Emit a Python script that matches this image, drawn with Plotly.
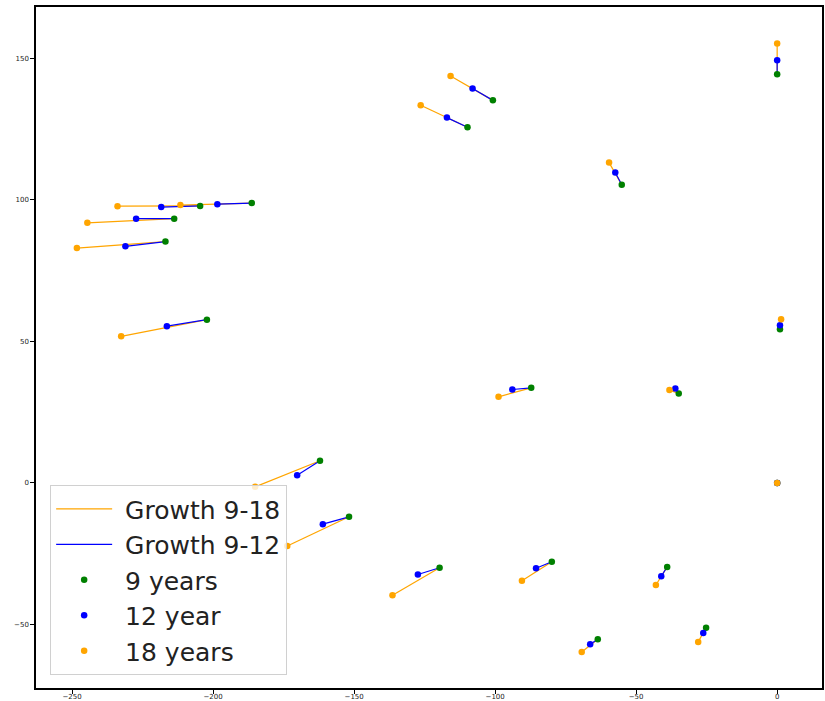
import plotly.graph_objects as go

# Landmark positions at three ages (one entry per landmark)
x9 = [0.0, -55.1, 1.0, -100.8, -109.8, -186.3, -204.6, -213.8, -216.9, -202.2,
      -87.2, -162.1, -151.8, -119.7, -79.9, -63.6, -34.9, 0.0, -39.0, -25.2]
y9 = [144.4, 105.4, 54.3, 135.2, 125.7, 98.9, 97.9, 93.4, 85.3, 57.7,
      33.6, 7.8, -12.0, -30.0, -27.9, -55.3, 31.6, 0.0, -29.7, -51.2]
x12 = [0.0, -57.4, 1.0, -108.0, -117.1, -198.5, -218.4, -227.3, -231.1, -216.4,
       -93.9, -170.2, -161.1, -127.4, -85.5, -66.3, -36.1, 0.0, -41.1, -26.2]
y12 = [149.4, 109.7, 55.7, 139.4, 129.1, 98.5, 97.5, 93.4, 83.6, 55.4,
       33.0, 2.7, -14.6, -32.4, -30.2, -57.0, 33.4, 0.0, -33.0, -53.1]
x18 = [0.0, -59.6, 1.4, -115.8, -126.4, -211.6, -233.9, -244.6, -248.3, -232.6,
       -98.8, -185.1, -173.7, -136.4, -90.5, -69.3, -38.2, 0.0, -43.0, -28.0]
y18 = [155.3, 113.2, 57.8, 143.8, 133.5, 98.2, 97.8, 91.9, 83.0, 51.8,
       30.4, -1.4, -22.3, -39.7, -34.6, -59.8, 32.8, 0.0, -36.1, -56.2]

x_ticks = [-250, -200, -150, -100, -50, 0]
y_ticks = [-50, 0, 50, 100, 150]

# a non-breaking space widens the gap between legend symbol and label
PAD = "\u00a0"


def segments(xa, ya, xb, yb):
    """Join point i of one age to point i of another, separated by gaps."""
    xs, ys = [], []
    for x0, y0, x1, y1 in zip(xa, ya, xb, yb):
        xs += [x0, x1, None]
        ys += [y0, y1, None]
    return xs, ys


fig = go.Figure()

sx, sy = segments(x9, y9, x18, y18)
fig.add_trace(go.Scatter(x=sx, y=sy, mode="lines", name=PAD + "Growth 9-18",
                         line=dict(color="orange", width=1.2)))
sx, sy = segments(x9, y9, x12, y12)
fig.add_trace(go.Scatter(x=sx, y=sy, mode="lines", name=PAD + "Growth 9-12",
                         line=dict(color="blue", width=1.2)))

fig.add_trace(go.Scatter(x=x9, y=y9, mode="markers", name=PAD + "9 years",
                         marker=dict(color="green", size=6.5, line=dict(width=0))))
fig.add_trace(go.Scatter(x=x12, y=y12, mode="markers", name=PAD + "12 year",
                         marker=dict(color="blue", size=6.5, line=dict(width=0))))
fig.add_trace(go.Scatter(x=x18, y=y18, mode="markers", name=PAD + "18 years",
                         marker=dict(color="orange", size=6.5, line=dict(width=0))))

axis_common = dict(
    showgrid=False, zeroline=False,
    showline=True, linecolor="black", linewidth=1.5, mirror=True,
    ticks="outside", ticklen=4, tickwidth=1, tickcolor="black",
    tickfont=dict(family="DejaVu Sans", size=7, color="#222"),
    automargin=False,
)

fig.update_xaxes(range=[-262.8, 15.9], tickvals=x_ticks, ticklabelstandoff=-3,
                 **axis_common)
fig.update_yaxes(range=[-72.5, 168.2], tickvals=y_ticks, **axis_common)

fig.update_layout(
    width=825, height=701,
    margin=dict(l=36, r=3, t=7, b=13),
    paper_bgcolor="white", plot_bgcolor="white",
    font=dict(family="DejaVu Sans", color="#222"),
    legend=dict(
        x=0.018, y=0.019, xanchor="left", yanchor="bottom",
        bgcolor="rgba(255,255,255,0.8)", bordercolor="#d0d0d0", borderwidth=1,
        font=dict(family="DejaVu Sans", size=25, color="#222"),
        itemwidth=56, tracegroupgap=0,
    ),
    showlegend=True,
)

fig.write_html("out.html")
